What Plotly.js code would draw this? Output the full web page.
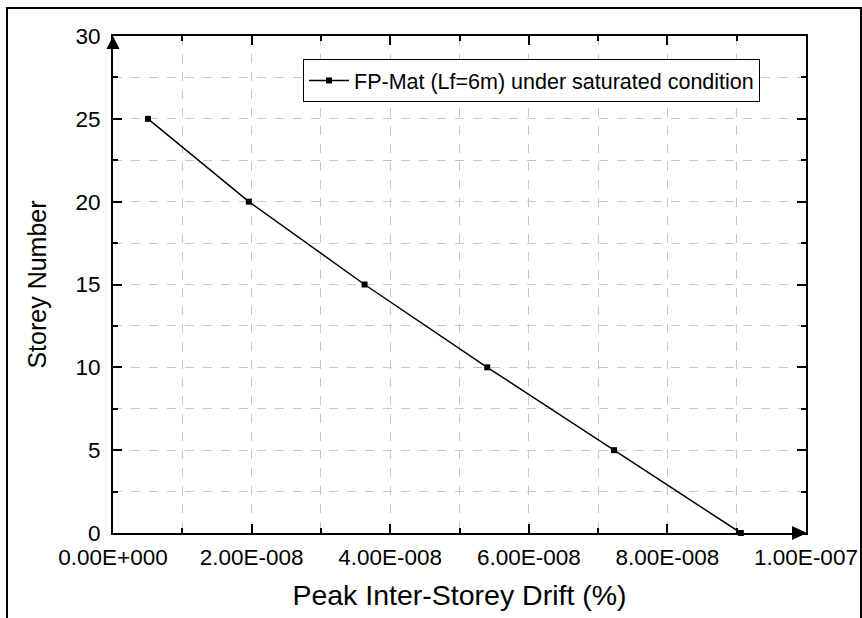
<!DOCTYPE html>
<html>
<head>
<meta charset="utf-8">
<script src="https://cdn.plot.ly/plotly-3.0.1.min.js"></script>
<style>
  html, body { margin: 0; padding: 0; background: #fff; }
  #wrap { position: relative; width: 862px; height: 618px; overflow: hidden; }
  #chart { width: 862px; height: 618px; }
  #frame { position: absolute; left: 6px; top: 7px; width: 852px; height: 640px;
           border: 2px solid #000; border-bottom: none; pointer-events: none; }
</style>
</head>
<body>
<div id="wrap">
  <div id="chart"></div>
  <div id="frame"></div>
</div>
<script>
// Data
const seriesName = "FP-Mat (Lf=6m) under saturated condition";
const drift = [5.05e-9, 1.96e-8, 3.63e-8, 5.40e-8, 7.23e-8, 9.06e-8];
const storey = [25, 20, 15, 10, 5, 0];

const xTickVals = [0, 2e-8, 4e-8, 6e-8, 8e-8, 1e-7];
const xTickText = ["0.00E+000", "2.00E-008", "4.00E-008", "6.00E-008", "8.00E-008", "1.00E-007"];
const yTickVals = [0, 5, 10, 15, 20, 25, 30];
const yTickText = ["0", "5", "10", "15", "20", "25", "30"];

const xTitle = "Peak Inter-Storey Drift (%)";
const yTitle = "Storey Number";

const FONT = "Liberation Sans, Arial, sans-serif";

const trace = {
  x: drift, y: storey, type: "scatter", mode: "lines+markers",
  name: seriesName,
  line: { color: "#000", width: 1.5 },
  marker: { symbol: "square", size: 6, color: "#000" },
  cliponaxis: false
};

// plot area size in px (for arrow shapes)
const L = 113, R = 56, T = 36, B = 85;
const PW = 862 - L - R, PH = 618 - T - B;

const yArrow = `M ${0} 1 L ${-6.5/PW} ${1 - 13/PH} L ${6.5/PW} ${1 - 13/PH} Z`;
const xArrow = `M ${1 + 1/PW} 0 L ${1 - 14/PW} ${7/PH} L ${1 - 14/PW} ${-7/PH} Z`;

const gridStyle = { gridcolor: "#c8c8c8", gridwidth: 1, griddash: "dash" };

const layout = {
  width: 862, height: 618,
  margin: { l: L, r: R, t: T, b: B },
  paper_bgcolor: "#fff", plot_bgcolor: "#fff",
  font: { family: FONT, color: "#000" },
  showlegend: true,
  legend: {
    x: (303 - L) / PW, y: (533 - 59) / PH, xanchor: "left", yanchor: "top",
    bgcolor: "#fff", bordercolor: "#000", borderwidth: 1,
    font: { family: FONT, size: 21.5, color: "#000" },
    itemwidth: 40, tracegroupgap: 0
  },
  xaxis: {
    range: [0, 1e-7], tickmode: "array", tickvals: xTickVals, ticktext: xTickText,
    showline: true, linecolor: "#000", linewidth: 2, mirror: "allticks",
    ticks: "inside", ticklen: 9, tickwidth: 2, tickcolor: "#000",
    tickfont: { family: FONT, size: 22.5, color: "#000" },
    ticklabelstandoff: 3,
    showgrid: true, ...gridStyle, zeroline: false,
    minor: { dtick: 1e-8, tick0: 0, ticks: "inside", ticklen: 5, tickwidth: 2, tickcolor: "#000",
             showgrid: true, ...gridStyle },
    title: { text: xTitle, font: { family: FONT, size: 28.5, color: "#000" }, standoff: 16 }
  },
  yaxis: {
    range: [0, 30], tickmode: "array", tickvals: yTickVals, ticktext: yTickText,
    showline: true, linecolor: "#000", linewidth: 2, mirror: "allticks",
    ticks: "inside", ticklen: 9, tickwidth: 2, tickcolor: "#000",
    tickfont: { family: FONT, size: 22.5, color: "#000" },
    ticklabelstandoff: 6,
    showgrid: true, ...gridStyle, zeroline: false,
    minor: { dtick: 2.5, tick0: 0, ticks: "inside", ticklen: 5, tickwidth: 2, tickcolor: "#000",
             showgrid: true, ...gridStyle },
    title: { text: yTitle, font: { family: FONT, size: 25, color: "#000" }, standoff: 22 }
  },
  shapes: [
    { type: "path", xref: "paper", yref: "paper", path: yArrow, fillcolor: "#000", line: { width: 0 } },
    { type: "path", xref: "paper", yref: "paper", path: xArrow, fillcolor: "#000", line: { width: 0 } }
  ]
};

Plotly.newPlot("chart", [trace], layout, { displayModeBar: false, staticPlot: true });
</script>
</body>
</html>
